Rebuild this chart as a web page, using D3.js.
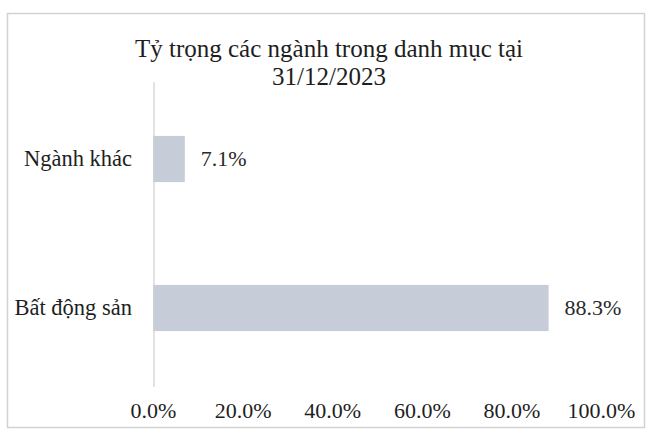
<!DOCTYPE html>
<html><head><meta charset="utf-8">
<script src="https://cdn.jsdelivr.net/npm/d3@7"></script>
<style>body{margin:0;background:#fff}svg{display:block}</style>
</head><body>
<svg id="c" width="647" height="430"></svg>
<script>
const categories = ["Ngành khác", "Bất động sản"];
const values = [7.1, 88.3];
const tickValues = [0, 20, 40, 60, 80, 100];
const titleLines = ["Tỷ trọng các ngành trong danh mục tại", "31/12/2023"];

const FONT = '"Liberation Serif", "Times New Roman", serif';
const svg = d3.select("#c");

svg.append("rect").attr("x", 7.5).attr("y", 13.5).attr("width", 637).attr("height", 414)
  .attr("fill", "#fff").attr("stroke", "#d2d2d2").attr("stroke-width", 1.5);

const x = d3.scaleLinear().domain([0, 100]).range([153, 601]);
const y = d3.scaleBand().domain(categories).range([84.5, 382.5]).paddingInner(0.69).paddingOuter(0.345);

svg.append("text").attr("text-anchor", "middle")
  .style("font-family", FONT).style("font-size", "25px").attr("fill", "#1e1e1e")
  .selectAll("tspan").data(titleLines).join("tspan")
  .attr("x", 329).attr("y", (d, i) => 57 + i * 28).text(d => d);

svg.selectAll("rect.bar").data(values).join("rect").attr("class", "bar")
  .attr("x", x(0)).attr("y", (d, i) => y(categories[i]))
  .attr("width", d => x(d) - x(0)).attr("height", y.bandwidth())
  .attr("fill", "#c6cdd8");

svg.append("line").attr("x1", 154).attr("x2", 154).attr("y1", 82).attr("y2", 387)
  .attr("stroke", "#d0d0d0").attr("stroke-width", 1.2);

svg.selectAll("text.cat").data(categories).join("text").attr("class", "cat")
  .attr("x", 132).attr("y", d => y(d) + y.bandwidth() / 2 + 7)
  .attr("text-anchor", "end")
  .style("font-family", FONT).style("font-size", "22.5px").attr("fill", "#1e1e1e")
  .text(d => d);

svg.selectAll("text.val").data(values).join("text").attr("class", "val")
  .attr("x", d => x(d) + 16).attr("y", (d, i) => y(categories[i]) + y.bandwidth() / 2 + 7)
  .style("font-family", FONT).style("font-size", "22px").attr("fill", "#2a2a2a")
  .text(d => d.toFixed(1) + "%");

const axis = d3.axisBottom(x).tickValues(tickValues).tickSize(0).tickPadding(0)
  .tickFormat(d => d.toFixed(1) + "%");
const g = svg.append("g").attr("transform", "translate(0,402)").call(axis);
g.select(".domain").remove();
g.selectAll("text").style("font-family", FONT).style("font-size", "22px").attr("fill", "#1e1e1e");
</script>
</body></html>
